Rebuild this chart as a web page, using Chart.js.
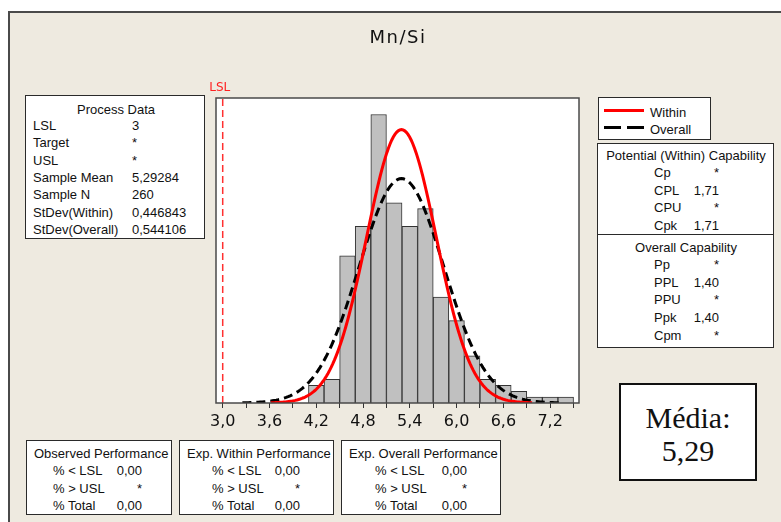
<!DOCTYPE html>
<html>
<head>
<meta charset="utf-8">
<script src="https://cdn.jsdelivr.net/npm/chart.js@4.4.1/dist/chart.umd.min.js"></script>
<style>
  html, body { margin: 0; padding: 0; background: #ffffff; }
  #wrap { position: relative; width: 781px; height: 522px; overflow: hidden; background: #ffffff; }
  #panel { position: absolute; left: 8px; top: 11px; right: 0; bottom: 0; background: #eeeae0;
           border-left: 2px solid #4a4a4a; border-top: 2px solid #4a4a4a; }
  canvas { position: absolute; left: 0; top: 0; }
  .box { position: absolute; background: #ffffff; border: 1.5px solid #2a2a2a; box-sizing: border-box;
         font-family: "Liberation Sans", Arial, sans-serif; font-size: 13px; color: #111; }
  .t { position: absolute; white-space: nowrap; line-height: 1; transform: translateY(-50%); }
  .r { text-align: right; transform: translate(-100%, -50%); }
  .c { transform: translate(-50%, -50%); }
  #title { position: absolute; left: 398px; top: 36px; transform: translate(-50%, -50%);
           font-family: "DejaVu Sans", sans-serif; font-size: 18px; letter-spacing: 1.5px; color: #111; }
  #media { position: absolute; left: 619px; top: 383px; width: 138px; height: 98px; box-sizing: border-box;
           background: #fff; border: 2px solid #111; font-family: "Liberation Serif", "Times New Roman", serif;
           font-size: 30px; color: #111; text-align: center; line-height: 33px; padding-top: 16px; }
</style>
</head>
<body>
<div id="wrap">
  <div id="panel"></div>
  <canvas id="chart" width="781" height="522"></canvas>
  <div id="title">Mn/Si</div>
  <div id="boxes"></div>
  <div id="media">Média:<br>5,29</div>
</div>
<script>
// Histogram of Mn/Si (bin width 0.2)
const binCenters = [4.2, 4.4, 4.6, 4.8, 5.0, 5.2, 5.4, 5.6, 5.8, 6.0, 6.2, 6.4, 6.6, 6.8, 7.0, 7.2, 7.4];
const binCounts  = [3, 4, 25, 30, 49, 34, 30, 33, 18, 14, 8, 4, 3, 2, 1, 1, 1];
const binWidth = 0.2;

// Process data
const lsl = 3;
const sampleMean = 5.29284;
const sampleN = 260;
const stdevWithin = 0.446843;
const stdevOverall = 0.544106;

// Axis tick labels (every second minor tick is labelled)
const tickValues = [3.0, 3.3, 3.6, 3.9, 4.2, 4.5, 4.8, 5.1, 5.4, 5.7, 6.0, 6.3, 6.6, 6.9, 7.2, 7.5];
const tickLabels = ["3,0", "", "3,6", "", "4,2", "", "4,8", "", "5,4", "", "6,0", "", "6,6", "", "7,2", ""];

// Fitted normal curves scaled to histogram counts, spanning mean ± 3.75 sd
function normalCurve(mu, sd) {
  const pts = [];
  const steps = 160;
  const lo = mu - 3.75 * sd, hi = mu + 3.75 * sd;
  for (let i = 0; i <= steps; i++) {
    const x = lo + (hi - lo) * i / steps;
    const z = (x - mu) / sd;
    const y = sampleN * binWidth * Math.exp(-0.5 * z * z) / (sd * Math.sqrt(2 * Math.PI));
    pts.push({ x, y });
  }
  return pts;
}

const yMax = 51.8;

const framePlugin = {
  id: 'frame',
  beforeDraw(chart) {
    const a = chart.chartArea, ctx = chart.ctx;
    ctx.save();
    ctx.fillStyle = '#ffffff';
    ctx.fillRect(a.left, a.top, a.right - a.left, a.bottom - a.top);
    ctx.restore();
  },
  afterDraw(chart) {
    const a = chart.chartArea, ctx = chart.ctx;
    ctx.save();
    ctx.strokeStyle = '#4a4a4a';
    ctx.lineWidth = 1.5;
    ctx.strokeRect(a.left, a.top, a.right - a.left, a.bottom - a.top);
    // LSL label above the limit line
    const px = chart.scales.x.getPixelForValue(lsl);
    ctx.fillStyle = '#ff2020';
    ctx.font = '12px "DejaVu Sans", sans-serif';
    ctx.textAlign = 'center';
    ctx.textBaseline = 'middle';
    ctx.fillText('LSL', px - 3, 88);
    ctx.restore();
  }
};

new Chart(document.getElementById('chart'), {
  type: 'bar',
  data: {
    datasets: [
      {
        type: 'line', label: 'LSL',
        data: [{ x: lsl, y: 0 }, { x: lsl, y: yMax }],
        borderColor: '#ff3030', borderWidth: 1.5, borderDash: [7, 4],
        pointRadius: 0, order: 0
      },
      {
        type: 'line', label: 'Within',
        data: normalCurve(sampleMean, stdevWithin),
        borderColor: '#ff0000', borderWidth: 3, pointRadius: 0, tension: 0, order: 1
      },
      {
        type: 'line', label: 'Overall',
        data: normalCurve(sampleMean, stdevOverall),
        borderColor: '#000000', borderWidth: 3, borderDash: [9, 5], pointRadius: 0, tension: 0, order: 2
      },
      {
        type: 'bar', label: 'Mn/Si',
        data: binCenters.map((c, i) => ({ x: c, y: binCounts[i] })),
        backgroundColor: '#c0c0c0', borderColor: '#333333', borderWidth: 1,
        barPercentage: 1, categoryPercentage: 1, order: 3
      }
    ]
  },
  options: {
    responsive: false,
    animation: false,
    devicePixelRatio: 1,
    layout: { padding: { left: 216, right: 202, top: 98, bottom: 0 } },
    plugins: { legend: { display: false }, title: { display: false }, tooltip: { enabled: false } },
    scales: {
      x: {
        type: 'linear', min: 2.914, max: 7.57, offset: false,
        afterBuildTicks(scale) { scale.ticks = tickValues.map(v => ({ value: v })); },
        afterFit(scale) { scale.height = 119; },
        ticks: {
          autoSkip: false, maxRotation: 0, padding: 4, color: '#111',
          font: { family: 'DejaVu Sans', size: 16 },
          callback(value, index) { return tickLabels[index]; }
        },
        grid: { offset: false, drawOnChartArea: false, drawTicks: true, tickLength: 5, color: '#333', lineWidth: 1 },
        border: { display: false }
      },
      y: { display: false, min: 0, max: yMax }
    }
  },
  plugins: [framePlugin]
});

// Statistics panels
const boxes = document.getElementById('boxes');
function box(l, t, w, h) {
  const b = document.createElement('div');
  b.className = 'box';
  b.style.left = l + 'px'; b.style.top = t + 'px'; b.style.width = w + 'px'; b.style.height = h + 'px';
  boxes.appendChild(b);
  return { el: b, l, t };
}
function txt(bx, s, x, y, cls) {
  const d = document.createElement('div');
  d.className = 't' + (cls ? ' ' + cls : '');
  d.textContent = s;
  d.style.left = (x - bx.l) + 'px'; d.style.top = (y - bx.t) + 'px';
  bx.el.appendChild(d);
}

const processLabels = ['LSL', 'Target', 'USL', 'Sample Mean', 'Sample N', 'StDev(Within)', 'StDev(Overall)'];
const processValues = ['3', '*', '*', '5,29284', '260', '0,446843', '0,544106'];
const pd = box(25, 95, 180, 144);
txt(pd, 'Process Data', 115, 108, 'c');
processLabels.forEach((s, i) => {
  txt(pd, s, 32, 124 + i * 17.3);
  txt(pd, processValues[i], 131, 124 + i * 17.3);
});

// Legend
const lg = box(598, 97, 113, 43);
const l1 = document.createElement('div');
l1.style.cssText = 'position:absolute;left:5px;top:11px;width:40px;height:3px;background:#ff0000;';
lg.el.appendChild(l1);
[0, 23].forEach(off => {
  const d = document.createElement('div');
  d.style.cssText = 'position:absolute;left:' + (5 + off) + 'px;top:28px;width:17px;height:3px;background:#000;';
  lg.el.appendChild(d);
});
txt(lg, 'Within', 649, 111);
txt(lg, 'Overall', 649, 128);

// Capability
const capWithinLabels = ['Cp', 'CPL', 'CPU', 'Cpk'];
const capWithinValues = ['*', '1,71', '*', '1,71'];
const capOverallLabels = ['Pp', 'PPL', 'PPU', 'Ppk', 'Cpm'];
const capOverallValues = ['*', '1,40', '*', '1,40', '*'];
const cb = box(597, 143, 177, 205);
const div = document.createElement('div');
div.style.cssText = 'position:absolute;left:0;right:0;top:' + (233 - 143) + 'px;height:0;border-top:1.5px solid #2a2a2a;';
cb.el.appendChild(div);
txt(cb, 'Potential (Within) Capability', 685, 154, 'c');
capWithinLabels.forEach((s, i) => {
  txt(cb, s, 653, 171 + i * 17.7);
  txt(cb, capWithinValues[i], 718, 171 + i * 17.7, 'r');
});
txt(cb, 'Overall Capability', 685, 246, 'c');
capOverallLabels.forEach((s, i) => {
  txt(cb, s, 653, 263 + i * 17.7);
  txt(cb, capOverallValues[i], 718, 263 + i * 17.7, 'r');
});

// Performance panels
const perfLabels = ['% < LSL', '% > USL', '% Total'];
const observedValues = ['0,00', '*', '0,00'];
const expWithinValues = ['0,00', '*', '0,00'];
const expOverallValues = ['0,00', '*', '0,00'];
const perfPanels = [
  { l: 26, w: 146, title: 'Observed Performance', tx: 33, lx: 52, vx: 141, vals: observedValues },
  { l: 179, w: 155, title: 'Exp. Within Performance', tx: 186, lx: 211, vx: 299, vals: expWithinValues },
  { l: 341, w: 160, title: 'Exp. Overall Performance', tx: 348, lx: 374, vx: 466, vals: expOverallValues }
];
perfPanels.forEach(p => {
  const b = box(p.l, 440, p.w, 75);
  txt(b, p.title, p.tx, 452);
  perfLabels.forEach((s, i) => {
    txt(b, s, p.lx, 469 + i * 17.5);
    txt(b, p.vals[i], p.vx, 469 + i * 17.5, 'r');
  });
});
</script>
</body>
</html>
